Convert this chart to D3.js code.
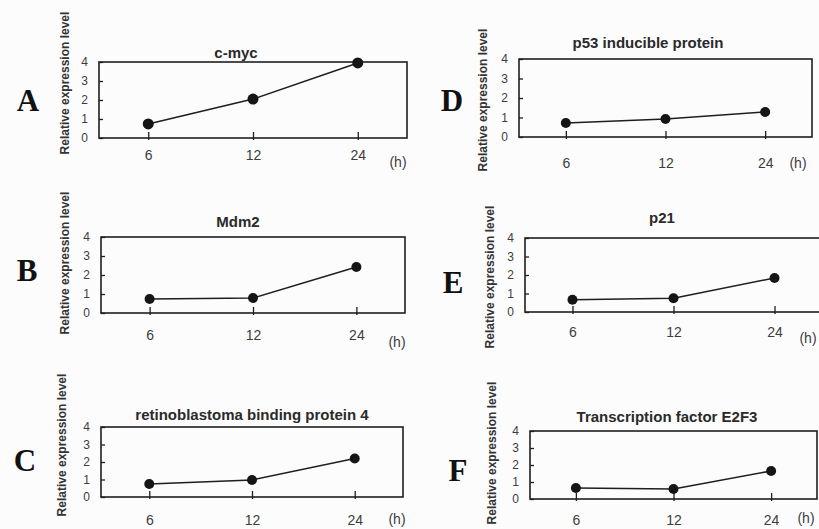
<!DOCTYPE html>
<html>
<head>
  <meta charset="utf-8">
  <title>Relative expression level</title>
  <script src="https://d3js.org/d3.v7.min.js"></script>
  <style>
    body { margin: 0; background: #fcfcfc; }
    svg { display: block; }
  </style>
</head>
<body>
  <svg id="chart"></svg>

  <script>
    // data
    const hours = ["6", "12", "24"];
    const yTicks = [0, 1, 2, 3, 4];
    const panelLetters = ["A", "B", "C", "D", "E", "F"];
    const geneNames = ["c-myc", "Mdm2", "retinoblastoma binding protein 4",
                       "p53 inducible protein", "p21", "Transcription factor E2F3"];
    const cmyc   = [0.74, 2.05, 3.95];
    const mdm2   = [0.74, 0.79, 2.42];
    const rbbp4  = [0.74, 0.97, 2.2];
    const p53ip  = [0.72, 0.92, 1.28];
    const p21    = [0.66, 0.74, 1.84];
    const e2f3   = [0.65, 0.59, 1.65];
    const seriesValues = [cmyc, mdm2, rbbp4, p53ip, p21, e2f3];
    const yLabel = "Relative expression level";
    const unitLabel = "(h)";

    // where each panel sits on the page (box edges, title, letter, axis label)
    const layout = [
      { l: 99,  r: 407, t: 62,  b: 138, tx: 236, ty: 58,  lx: 28,  ly: 100, ax: 65,  ay: 83,  pad: 8,  hx: 398, hy: 162 },
      { l: 101, r: 405, t: 237, b: 313, tx: 238, ty: 227, lx: 27,  ly: 270, ax: 65,  ay: 263, pad: 13, hx: 397, hy: 342 },
      { l: 101, r: 403, t: 427, b: 497, tx: 252, ty: 420, lx: 25,  ly: 460, ax: 62,  ay: 445, pad: 14, hx: 397, hy: 519 },
      { l: 519, r: 812, t: 59,  b: 137, tx: 648, ty: 48,  lx: 452, ly: 100, ax: 483, ay: 100, pad: 17, hx: 798, hy: 163 },
      { l: 525, r: 822, t: 238, b: 312, tx: 662, ty: 223, lx: 453, ly: 282, ax: 490, ay: 277, pad: 11, hx: 808, hy: 338 },
      { l: 530, r: 817, t: 431, b: 499, tx: 667, ty: 422, lx: 458, ly: 470, ax: 492, ay: 453, pad: 12, hx: 806, hy: 518 }
    ];

    const width = 819, height = 529;
    const ink = "#1e1e1e";
    const sans = "'Liberation Sans', Arial, sans-serif";

    const svg = d3.select("#chart")
      .attr("width", width)
      .attr("height", height)
      .attr("viewBox", `0 0 ${width} ${height}`);

    svg.append("rect").attr("width", width).attr("height", height).attr("fill", "#fcfcfc");

    seriesValues.forEach((vals, i) => {
      const L = layout[i];
      const g = svg.append("g");

      const x = d3.scalePoint().domain(hours).range([L.l, L.r]).padding(0.47);
      const y = d3.scaleLinear().domain([0, 4]).range([L.b, L.t]);

      // y axis: short ticks pointing into the box
      const yAxis = g.append("g")
        .attr("transform", `translate(${L.l},0)`)
        .call(d3.axisLeft(y).tickValues(yTicks).tickSize(-4).tickPadding(11).tickFormat(d3.format("d")));
      yAxis.select(".domain").remove();
      yAxis.selectAll(".tick line").attr("stroke", ink).attr("stroke-width", 1.3);
      yAxis.selectAll("text")
        .attr("fill", "#3c3c3c")
        .style("font", `12px ${sans}`);

      // x axis, ticks mostly inside the bottom edge
      const xAxis = g.append("g")
        .attr("transform", `translate(0,${L.b})`)
        .call(d3.axisBottom(x).tickSize(4).tickPadding(L.pad));
      xAxis.select(".domain").remove();
      xAxis.selectAll(".tick line").attr("y1", -6).attr("y2", 2).attr("stroke", ink).attr("stroke-width", 1.3);
      xAxis.selectAll("text")
        .attr("fill", "#3c3c3c")
        .style("font", `14px ${sans}`);

      // frame
      g.append("rect")
        .attr("x", L.l).attr("y", L.t)
        .attr("width", L.r - L.l).attr("height", L.b - L.t)
        .attr("fill", "none").attr("stroke", ink).attr("stroke-width", 1.6);

      // series line and points
      const line = d3.line().x((d, j) => x(hours[j])).y(d => y(d));
      g.append("path")
        .datum(vals)
        .attr("fill", "none")
        .attr("stroke", ink)
        .attr("stroke-width", 1.5)
        .attr("d", line);

      g.selectAll("circle")
        .data(vals)
        .enter()
        .append("circle")
        .attr("cx", (d, j) => x(hours[j]))
        .attr("cy", d => y(d))
        .attr("r", i === 0 ? 5.5 : 5)
        .attr("fill", "#151515");

      // title
      g.append("text")
        .attr("x", L.tx).attr("y", L.ty)
        .attr("text-anchor", "middle")
        .attr("fill", "#2a2a2a")
        .style("font", `bold 15px ${sans}`)
        .text(geneNames[i]);

      // unit
      g.append("text")
        .attr("x", L.hx).attr("y", L.hy)
        .attr("text-anchor", "middle")
        .attr("dy", "0.35em")
        .attr("fill", "#3c3c3c")
        .style("font", `14px ${sans}`)
        .text(unitLabel);

      // rotated axis title
      g.append("text")
        .attr("transform", `translate(${L.ax},${L.ay}) rotate(-90)`)
        .attr("text-anchor", "middle")
        .attr("dy", "0.35em")
        .attr("fill", "#333")
        .style("font", `bold 12px ${sans}`)
        .text(yLabel);

      // panel letter
      g.append("text")
        .attr("x", L.lx).attr("y", L.ly)
        .attr("text-anchor", "middle")
        .attr("dy", "0.35em")
        .attr("fill", "#111")
        .style("font", "bold 31px 'Liberation Serif', 'Times New Roman', serif")
        .text(panelLetters[i]);
    });
  </script>
</body>
</html>
